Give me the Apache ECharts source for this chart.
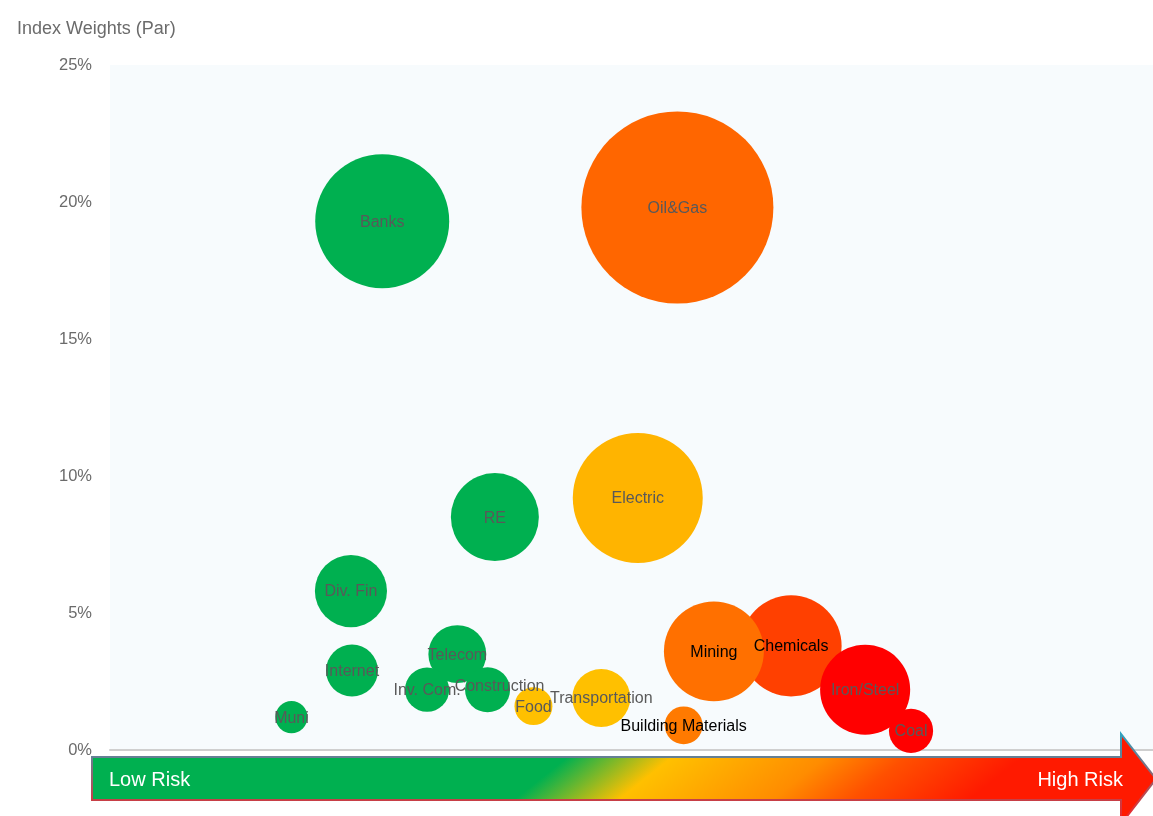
<!DOCTYPE html>
<html>
<head>
<meta charset="utf-8">
<title>Index Weights by Sector Risk</title>
<script src="https://cdn.jsdelivr.net/npm/echarts@6/dist/echarts.min.js"></script>
<style>
  html, body { margin: 0; padding: 0; background: #ffffff; }
  #chart { width: 1153px; height: 816px; }
</style>
</head>
<body>
<div id="chart"></div>
<script>
// Sectors, their position on the risk scale (0 = lowest risk, 100 = highest),
// their index weight (% of par) and the relative size of each bubble.
const sectors = ['Banks', 'Oil&Gas', 'Electric', 'RE', 'Div. Fin', 'Telecom', 'Internet',
  'Inv. Com.', 'Construction', 'Muni', 'Food', 'Transportation', 'Building Materials',
  'Chemicals', 'Mining', 'Iron/Steel', 'Coal'];
const riskScore = [26.1, 54.4, 50.6, 36.9, 23.1, 33.3, 23.2, 30.4, 36.2, 17.4, 40.6, 47.1, 55.0,
  65.3, 57.9, 72.4, 76.8];
const indexWeight = [19.3, 19.8, 9.2, 8.5, 5.8, 3.5, 2.9, 2.2, 2.2, 1.2, 1.6, 1.9, 0.9,
  3.8, 3.6, 2.2, 0.7];
const bubbleSize = [48.7, 100, 45.8, 21.0, 14.1, 9.1, 7.3, 5.3, 5.5, 2.8, 3.9, 9.1, 3.9,
  27.7, 27.1, 22.0, 5.3];
const yTicks = [0, 5, 10, 15, 20, 25];

// Fill colour per sector, from green (low risk) through amber to red (high risk)
const sectorColor = {
  'Banks': '#00b050', 'RE': '#00b050', 'Div. Fin': '#00b050', 'Telecom': '#00b050',
  'Internet': '#00b050', 'Inv. Com.': '#00b050', 'Construction': '#00b050', 'Muni': '#00b050',
  'Food': '#ffc000', 'Transportation': '#ffc000', 'Electric': '#ffb400',
  'Oil&Gas': '#ff6600', 'Building Materials': '#ff7a00', 'Mining': '#ff7000',
  'Chemicals': '#ff4000', 'Iron/Steel': '#ff0000', 'Coal': '#ff0000'
};
const darkLabels = ['Mining', 'Chemicals', 'Building Materials'];
const labelShift = { 'Construction': [12, -3] };

const FONT = '"Liberation Sans", Arial, Helvetica, sans-serif';
const MAX_DIAMETER = 192;

const points = sectors.map((name, i) => ({
  name: name,
  value: [riskScore[i], indexWeight[i], bubbleSize[i]],
  itemStyle: { color: sectorColor[name] },
  label: {
    color: darkLabels.includes(name) ? '#000000' : '#595959',
    offset: labelShift[name] || [0, 1]
  }
}));

const chart = echarts.init(document.getElementById('chart'), null, { renderer: 'canvas' });

chart.setOption({
  animation: false,
  backgroundColor: '#ffffff',
  textStyle: { fontFamily: FONT },
  title: {
    text: 'Index Weights (Par)',
    left: 12,
    top: 15,
    textStyle: { fontFamily: FONT, fontSize: 18, fontWeight: 'normal', color: '#6b6b6b' }
  },
  grid: {
    left: 110, right: 0, top: 65, bottom: 66,
    show: true, backgroundColor: '#f7fbfd', borderWidth: 0
  },
  xAxis: {
    type: 'value', min: 0, max: 100,
    axisLine: { show: true, onZero: false, lineStyle: { color: '#cfcfcf', width: 2 } },
    axisTick: { show: false },
    axisLabel: { show: false },
    splitLine: { show: false }
  },
  yAxis: {
    type: 'value', min: yTicks[0], max: yTicks[yTicks.length - 1], interval: 5,
    axisLine: { show: false },
    axisTick: { show: false },
    splitLine: { show: false },
    axisLabel: {
      margin: 18,
      fontFamily: FONT, fontSize: 16.5, color: '#6b6b6b',
      formatter: v => v + '%'
    }
  },
  series: [{
    type: 'scatter',
    data: points,
    symbolSize: d => MAX_DIAMETER * Math.sqrt(d[2] / 100),
    itemStyle: { opacity: 1 },
    label: {
      show: true,
      position: 'inside',
      formatter: p => p.name,
      fontFamily: FONT,
      fontSize: 16
    },
    emphasis: { disabled: true }
  }],
  graphic: [
    {
      // Risk direction arrow along the bottom, shaded diagonally green -> amber -> red
      type: 'polygon',
      z: 10,
      shape: {
        points: [[92, 757], [1121, 757], [1121, 734], [1156, 779], [1121, 824], [1121, 800], [92, 800]]
      },
      style: {
        fill: new echarts.graphic.LinearGradient(400, 778, 640, 1078, [
          { offset: 0, color: '#00b050' },
          { offset: 0.23, color: '#00b050' },
          { offset: 0.40, color: '#ffc000' },
          { offset: 0.65, color: '#ff8c00' },
          { offset: 0.78, color: '#ff5000' },
          { offset: 0.97, color: '#ff1a00' },
          { offset: 1, color: '#ff1a00' }
        ], true),
        stroke: new echarts.graphic.LinearGradient(0, 0, 0, 1, [
          { offset: 0, color: '#2fa3bf' },
          { offset: 1, color: '#ff1a1a' }
        ]),
        lineWidth: 2
      }
    },
    {
      type: 'text',
      z: 11,
      left: 109,
      top: 770,
      style: { text: 'Low Risk', fill: '#ffffff', font: '20px ' + FONT }
    },
    {
      type: 'text',
      z: 11,
      right: 30,
      top: 770,
      style: { text: 'High Risk', fill: '#ffffff', font: '20px ' + FONT, textAlign: 'right' }
    }
  ]
});
</script>
</body>
</html>
